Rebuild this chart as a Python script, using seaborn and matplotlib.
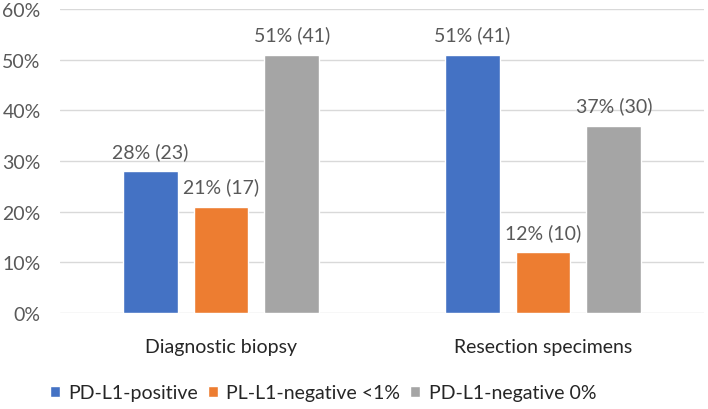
import matplotlib
matplotlib.use("Agg")
import matplotlib.pyplot as plt
import seaborn as sns
import pandas as pd

categories = ["Diagnostic biopsy", "Resection specimens"]
series_names = ["PD-L1-positive", "PL-L1-negative <1%", "PD-L1-negative 0%"]
pct_positive = [28, 51]
pct_neg_lt1 = [21, 12]
pct_neg_0 = [51, 37]
n_positive = [23, 41]
n_neg_lt1 = [17, 10]
n_neg_0 = [41, 30]
yticks = [0, 10, 20, 30, 40, 50, 60]
colors = ["#4472C4", "#ED7D31", "#A5A5A5"]

pcts = [pct_positive, pct_neg_lt1, pct_neg_0]
counts = [n_positive, n_neg_lt1, n_neg_0]
rows = []
for s, vals in zip(series_names, pcts):
    for c, v in zip(categories, vals):
        rows.append({"category": c, "series": s, "value": v})
df = pd.DataFrame(rows)

sns.set_style("white")
plt.rcParams["font.family"] = ["Lato", "DejaVu Sans"]
text_color = "#595959"
fs = 14

fig = plt.figure(figsize=(7.08, 4.10), dpi=100)
ax = fig.add_axes([60/708, 1-314/410, 644/708, 304/410])
sns.barplot(data=df, x="category", y="value", hue="series", order=categories,
            hue_order=series_names, palette=colors, width=0.66, gap=0.225,
            saturation=1, ax=ax, legend=True, errorbar=None)

for cont, vals, ns in zip(ax.containers, pcts, counts):
    ax.bar_label(cont, labels=[f"{v}% ({n})" for v, n in zip(vals, ns)],
                 padding=8, fontsize=fs, color=text_color)

ax.set_xlim(-0.5, 1.5)
ax.set_ylim(0, 60)
ax.set_yticks(yticks)
ax.set_yticklabels([f"{t}%" for t in yticks])
ax.yaxis.grid(True, color="#D9D9D9", linewidth=1)
ax.set_axisbelow(True)
for sp in ax.spines.values():
    sp.set_visible(False)
ax.tick_params(axis="y", length=0, pad=14, labelsize=fs, labelcolor=text_color)
ax.tick_params(axis="x", length=0, pad=18, labelsize=fs, labelcolor="#262626")
ax.set_xlabel("")
ax.set_ylabel("")

handles, labels = ax.get_legend_handles_labels()
ax.get_legend().remove()
fig.legend(handles, labels, loc="center", bbox_to_anchor=(323/708, 1-394/410),
           ncol=3, frameon=False, fontsize=fs, handlelength=0.5, handleheight=0.5,
           handletextpad=0.45, columnspacing=0.5, labelcolor="#262626",
           borderpad=0)

fig.savefig("out.png", dpi=100)
